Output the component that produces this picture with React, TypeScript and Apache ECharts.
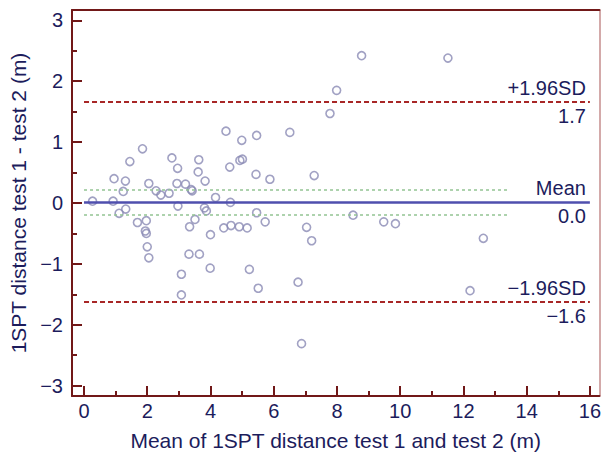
import React, { useEffect, useRef } from "react";
import * as echarts from "echarts";

// Bland–Altman points: mean of the two tests (x) and the difference test1 - test2 (y)
const meanValues = [
  0.27, 0.95, 0.92, 1.31, 1.24, 1.11, 1.32, 1.45, 1.85, 1.69, 1.97, 1.94, 1.97, 2.0, 2.05, 2.05,
  2.28, 2.43, 2.69, 2.78, 2.96, 2.94, 2.97, 3.21, 3.39, 3.42, 3.63, 3.61, 3.83, 3.34, 3.51, 3.32,
  3.65, 3.08, 3.99, 4.0, 3.81, 3.87, 4.16, 4.61, 4.63, 4.93, 5.01, 4.99, 4.65, 4.42, 4.91, 5.16,
  5.44, 5.46, 5.23, 4.49, 5.46, 3.08, 5.51, 6.51, 7.78, 7.99, 8.78, 11.51, 5.88, 7.28, 5.73, 7.04,
  7.2, 8.51, 9.48, 9.85, 6.77, 6.88, 12.63, 12.21,
];
const diffValues = [
  0.03, 0.4, 0.03, 0.36, 0.19, -0.17, -0.1, 0.68, 0.89, -0.32, -0.29, -0.46, -0.5, -0.72, -0.9, 0.32,
  0.2, 0.13, 0.16, 0.74, 0.57, 0.32, -0.05, 0.31, 0.22, 0.2, 0.71, 0.51, 0.36, -0.39, -0.27, -0.84,
  -0.84, -1.17, -1.07, -0.52, -0.08, -0.13, 0.09, 0.59, 0.01, 0.7, 0.72, 1.03, -0.37, -0.41, -0.39, -0.41,
  0.47, -0.16, -1.09, 1.18, 1.11, -1.51, -1.4, 1.16, 1.47, 1.85, 2.42, 2.38, 0.39, 0.45, -0.31, -0.4,
  -0.62, -0.2, -0.31, -0.34, -1.3, -2.31, -0.58, -1.44,
];

// Reference lines
const meanDiff = 0.01;
const upperLoA = 1.66;
const lowerLoA = -1.63;
const meanCI = [-0.19, 0.21];
const loaSpan = [0, 16];
const ciSpan = [0, 13.4];

// Ticks
const xMajorTicks = [0, 2, 4, 6, 8, 10, 12, 14, 16];
const xMinorTicks = [1, 3, 5, 7, 9, 11, 13, 15];
const yMajorTicks = [-3, -2, -1, 0, 1, 2, 3];
const yMinorTicks = [-2.5, -1.5, -0.5, 0.5, 1.5, 2.5];
const xRange = [-0.38, 16.3];
const yRange = [-3.17, 3.17];

const xTitle = "Mean of 1SPT distance test 1 and test 2 (m)";
const yTitle = "1SPT distance test 1 - test 2 (m)";

const axisColor = "#711818";
const textColor = "#1c1c5c";
const font = "Liberation Sans, Arial, Helvetica, sans-serif";
const fmt = (v: number) => (v < 0 ? "\u2212" + Math.abs(v) : String(v));
const fmt1 = (v: number) => (v < 0 ? "\u2212" + Math.abs(v).toFixed(1) : v.toFixed(1));

export default function App() {
  const ref = useRef<HTMLDivElement>(null);
  useEffect(() => {
    if (!ref.current) return;
    const chart = echarts.init(ref.current, null, { renderer: "svg" });
    const labelStyle = { color: textColor, fontSize: 20, fontFamily: font };
    const sdLine = { color: "#a82626", width: 2, type: [5, 3] as any };
    const meanLine = { color: "#4f4fae", width: 2.5, type: "solid" as any };
    const ciLine = { color: "#93c493", width: 1.5, type: [3, 3] as any };
    const hidden = (ls: any) => ({ ...ls, color: "rgba(255,255,255,0)" });
    const pair = (y: number, span: number[], ls: any, top?: string, bottom?: string) => {
      const out: any[] = [];
      out.push([
        {
          coord: [span[0], y],
          lineStyle: ls,
          label: top
            ? { show: true, position: "insideEndTop", formatter: top, distance: 4, ...labelStyle }
            : { show: false },
        },
        { coord: [span[1], y] },
      ]);
      if (bottom) {
        out.push([
          {
            coord: [span[0], y],
            lineStyle: hidden(ls),
            label: { show: true, position: "insideEndBottom", formatter: bottom, distance: 4, ...labelStyle },
          },
          { coord: [span[1], y] },
        ]);
      }
      return out;
    };

    const xBase = { type: "value", min: xRange[0], max: xRange[1], splitLine: { show: false } };
    const yBase = { type: "value", min: yRange[0], max: yRange[1], splitLine: { show: false } };

    chart.setOption({
      animation: false,
      backgroundColor: "#ffffff",
      grid: { left: 72, right: 2, top: 10, bottom: 59, containLabel: false },
      xAxis: [
        {
          ...xBase,
          position: "bottom",
          axisLine: { show: true, onZero: false, lineStyle: { color: axisColor, width: 2 } },
          axisTick: {
            show: true,
            inside: true,
            length: 10,
            customValues: xMajorTicks,
            lineStyle: { color: axisColor, width: 2 },
          },
          axisLabel: { show: true, customValues: xMajorTicks, margin: 5, ...labelStyle },
          name: xTitle,
          nameLocation: "middle",
          nameGap: 34,
          nameTextStyle: { color: textColor, fontSize: 21, fontFamily: font },
        },
        {
          ...xBase,
          position: "bottom",
          axisLine: { show: false, onZero: false },
          axisTick: {
            show: true,
            inside: true,
            length: 5,
            customValues: xMinorTicks,
            lineStyle: { color: axisColor, width: 2 },
          },
          axisLabel: { show: false },
        },
        {
          ...xBase,
          position: "top",
          axisLine: { show: true, onZero: false, lineStyle: { color: axisColor, width: 2 } },
          axisTick: { show: false },
          axisLabel: { show: false },
        },
      ],
      yAxis: [
        {
          ...yBase,
          position: "left",
          axisLine: { show: true, onZero: false, lineStyle: { color: axisColor, width: 2 } },
          axisTick: {
            show: true,
            inside: true,
            length: 10,
            customValues: yMajorTicks,
            lineStyle: { color: axisColor, width: 2 },
          },
          axisLabel: { show: true, customValues: yMajorTicks, margin: 9, formatter: fmt, ...labelStyle },
          name: yTitle,
          nameLocation: "middle",
          nameGap: 42,
          nameTextStyle: { color: textColor, fontSize: 21, fontFamily: font },
        },
        {
          ...yBase,
          position: "left",
          axisLine: { show: false, onZero: false },
          axisTick: {
            show: true,
            inside: true,
            length: 5,
            customValues: yMinorTicks,
            lineStyle: { color: axisColor, width: 2 },
          },
          axisLabel: { show: false },
        },
        {
          ...yBase,
          position: "right",
          axisLine: { show: true, onZero: false, lineStyle: { color: "#c48c8c", width: 1.5 } },
          axisTick: { show: false },
          axisLabel: { show: false },
        },
      ],
      series: [
        {
          type: "scatter",
          xAxisIndex: 0,
          yAxisIndex: 0,
          silent: true,
          symbol: "circle",
          symbolSize: 8,
          itemStyle: { color: "rgba(255,255,255,0)", borderColor: "#8a8ab4", borderWidth: 1.6 },
          data: meanValues.map((m, i) => [m, diffValues[i]]),
          z: 3,
          markLine: {
            silent: true,
            symbol: "none",
            animation: false,
            data: [
              ...pair(meanCI[1], ciSpan, ciLine),
              ...pair(meanCI[0], ciSpan, ciLine),
              ...pair(upperLoA, loaSpan, sdLine, "+1.96SD", fmt1(upperLoA)),
              ...pair(meanDiff, loaSpan, meanLine, "Mean", fmt1(meanDiff)),
              ...pair(lowerLoA, loaSpan, sdLine, "\u22121.96SD", fmt1(lowerLoA)),
            ],
          },
        },
      ],
    });
    return () => chart.dispose();
  }, []);
  return (
    <div
      ref={ref}
      style={{ position: "absolute", left: 0, top: 0, width: 604, height: 456, background: "#fff" }}
    />
  );
}
